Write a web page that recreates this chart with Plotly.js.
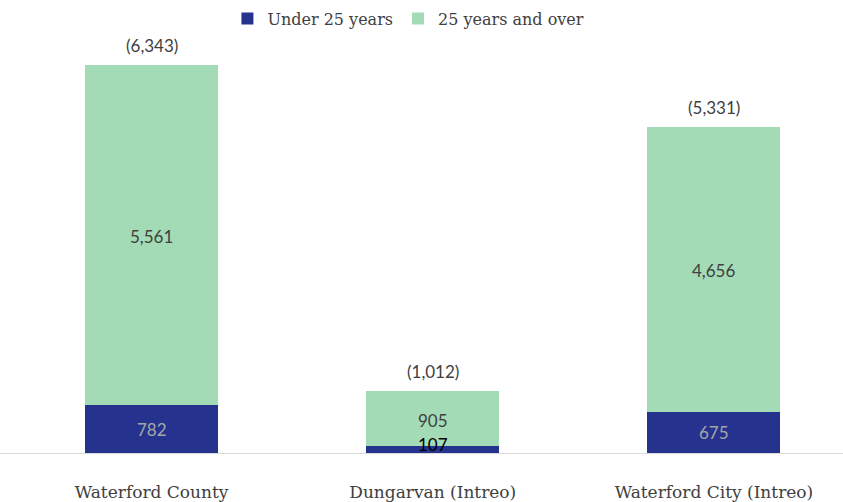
<!DOCTYPE html>
<html>
<head>
<meta charset="utf-8">
<script src="https://cdn.plot.ly/plotly-3.0.1.min.js"></script>
<style>html,body{margin:0;padding:0;background:#fff;}#chart{width:843px;height:502px;}</style>
</head>
<body>
<div id="chart"></div>
<script>
const categories = ["Waterford County", "Dungarvan (Intreo)", "Waterford City (Intreo)"];
const under25 = [782, 107, 675];
const over25 = [5561, 905, 4656];
const totals = [6343, 1012, 5331];
const seriesNames = ["Under 25 years", "25 years and over"];

const fmt = v => v.toLocaleString("en-US");
const sansFont = "Lato, 'Open Sans', sans-serif";
const serifFont = "'DejaVu Serif', serif";

const traces = [
  {type: "bar", name: seriesNames[0], x: categories, y: under25,
   marker: {color: "#25338f"}, width: 0.473, hoverinfo: "none"},
  {type: "bar", name: seriesNames[1], x: categories, y: over25,
   marker: {color: "#a3dbb7"}, width: 0.473, hoverinfo: "none"}
];

const annotations = [];
categories.forEach((c, i) => {
  const small = under25[i] < 300;
  annotations.push({x: c, y: under25[i] / 2, text: fmt(under25[i]), showarrow: false,
    yshift: small ? 5 : 0,
    font: {family: sansFont, size: 17, color: small ? "#000000" : "#a6a6a6"}});
  const ov = over25[i] < 2000;
  annotations.push({x: c, y: under25[i] + over25[i] / 2, text: fmt(over25[i]), showarrow: false,
    yshift: ov ? -2 : -1,
    font: {family: sansFont, size: 17, color: "#404040"}});
  annotations.push({x: c, y: totals[i], text: "(" + fmt(totals[i]) + ")", showarrow: false,
    yanchor: "bottom", yshift: 7,
    font: {family: sansFont, size: 17, color: "#404040"}});
});

const layout = {
  width: 843, height: 502,
  margin: {l: 0, r: 0, t: 30, b: 49, autoexpand: false},
  barmode: "stack",
  paper_bgcolor: "#ffffff", plot_bgcolor: "#ffffff",
  showlegend: true,
  legend: {orientation: "h", x: 0.4845, xanchor: "center", yref: "container", y: 0.963, yanchor: "middle",
    font: {family: serifFont, size: 16, color: "#404040"}, itemwidth: 30, traceorder: "normal"},
  xaxis: {type: "category", range: [-0.539, 2.459], showgrid: false, zeroline: false,
    showline: true, linecolor: "#d9d9d9", linewidth: 1, ticks: "",
    ticklabelstandoff: 24,
    tickfont: {family: serifFont, size: 17, color: "#404040"}},
  yaxis: {range: [0, 6915], visible: false, showgrid: false, zeroline: false},
  annotations: annotations
};

Plotly.newPlot("chart", traces, layout, {displayModeBar: false, staticPlot: true});
</script>
</body>
</html>
